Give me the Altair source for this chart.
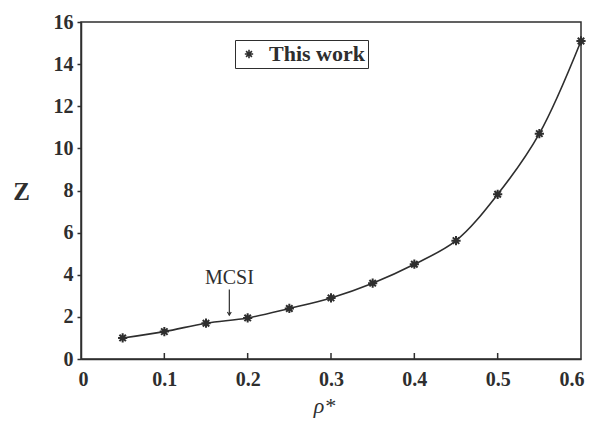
import altair as alt
import pandas as pd

rho = [0.05, 0.10, 0.15, 0.20, 0.25, 0.30, 0.35, 0.40, 0.45, 0.50, 0.55, 0.60]
z_vals = [1.0, 1.3, 1.7, 1.95, 2.4, 2.9, 3.6, 4.5, 5.62, 7.82, 10.7, 15.1]
series_name = ["This work"]
x_ticks = [0, 0.1, 0.2, 0.3, 0.4, 0.5, 0.6]
y_ticks = [0, 2, 4, 6, 8, 10, 12, 14, 16]
inner_ticks = [0.1, 0.2, 0.3, 0.4, 0.5]
mcsi_x = [0.178]
mcsi_label_z = [3.85]
mcsi_arrow_top = [3.3]
mcsi_arrow_tip = [2.08]
mcsi_text = ["MCSI"]

FONT = "Liberation Serif"
INK = "#2e2e2e"
ASTERISK = "M-1,0L1,0M0,-1L0,1M-0.7,-0.7L0.7,0.7M-0.7,0.7L0.7,-0.7"

df = pd.DataFrame({"rho": rho, "Z": z_vals, "series": series_name * len(rho)})
ticks_df = pd.DataFrame({"x": inner_ticks})
ann_df = pd.DataFrame({"x": mcsi_x, "ty": mcsi_label_z, "a1": mcsi_arrow_top,
                       "a2": mcsi_arrow_tip, "label": mcsi_text})

xscale = alt.Scale(domain=[0, 0.6], nice=False, zero=False)
yscale = alt.Scale(domain=[0, 16], nice=False)

xaxis = alt.Axis(values=x_ticks, format=".1~f", tickSize=0, labelPadding=10,
                 title="ρ*", titleFontSize=22, titleFontStyle="italic",
                 titleFontWeight="normal", titleX=243, titleY=46,
                 titleAlign="center", titleBaseline="middle",
                 labelFlush=True, labelFlushOffset=3)
yaxis = alt.Axis(values=y_ticks, tickSize=4, tickColor=INK, tickWidth=1.5, labelPadding=4,
                 title="Z", titleFontSize=25, titleFontWeight="bold",
                 titleAngle=0, titleX=-60, titleY=169,
                 titleAlign="center", titleBaseline="middle")

line = alt.Chart(df).mark_line(interpolate="catmull-rom", color=INK, strokeWidth=1.6).encode(
    x=alt.X("rho:Q", scale=xscale, axis=xaxis),
    y=alt.Y("Z:Q", scale=yscale, axis=yaxis),
)

points = alt.Chart(df).mark_point(filled=False, stroke=INK, strokeWidth=2.0, size=85, opacity=1).encode(
    x=alt.X("rho:Q", scale=xscale, axis=xaxis),
    y=alt.Y("Z:Q", scale=yscale, axis=yaxis),
    shape=alt.Shape("series:N", scale=alt.Scale(range=[ASTERISK]),
                    legend=alt.Legend(orient="none", legendX=154, legendY=18, title=None,
                                      strokeColor=INK, padding=3, fillColor="white",
                                      labelFontSize=22, labelFontWeight="bold",
                                      symbolSize=70, symbolStrokeColor=INK,
                                      symbolStrokeWidth=1.6, symbolFillColor="transparent",
                                      symbolOpacity=1, labelOffset=9)),
)

ticks = alt.Chart(ticks_df).mark_rule(color=INK, strokeWidth=1.5).encode(
    x=alt.X("x:Q", scale=xscale, axis=xaxis),
    y=alt.value(337),
    y2=alt.value(331),
)

ann_text = alt.Chart(ann_df).mark_text(font=FONT, fontSize=20, color=INK, baseline="middle").encode(
    x=alt.X("x:Q", scale=xscale, axis=xaxis),
    y=alt.Y("ty:Q", scale=yscale, axis=yaxis),
    text="label:N",
)
ann_rule = alt.Chart(ann_df).mark_rule(color=INK, strokeWidth=1.2).encode(
    x=alt.X("x:Q", scale=xscale, axis=xaxis),
    y=alt.Y("a1:Q", scale=yscale, axis=yaxis),
    y2="a2:Q",
)
ann_head = alt.Chart(ann_df).mark_point(shape="M-0.6,-1L0,0L0.6,-1", filled=False, stroke=INK,
                                        strokeWidth=1.2, size=40, opacity=1).encode(
    x=alt.X("x:Q", scale=xscale, axis=xaxis),
    y=alt.Y("a2:Q", scale=yscale, axis=yaxis),
)

chart = alt.layer(line, ticks, ann_rule, ann_head, ann_text, points).properties(
    width=500, height=337,
    background="white",
    autosize=alt.AutoSizeParams(type="none"),
    padding={"left": 73, "top": 14, "right": 5, "bottom": 60},
).configure_view(
    stroke=INK, strokeWidth=1.5
).configure_axis(
    labelFont=FONT, labelFontSize=20, labelFontWeight="bold", labelColor=INK,
    titleFont=FONT, titleColor=INK, domainColor=INK, domainWidth=1.5, grid=False,
).configure_legend(
    labelFont=FONT, labelColor=INK,
)

chart.save("out.html", embed_options={"renderer": "svg", "actions": False})
